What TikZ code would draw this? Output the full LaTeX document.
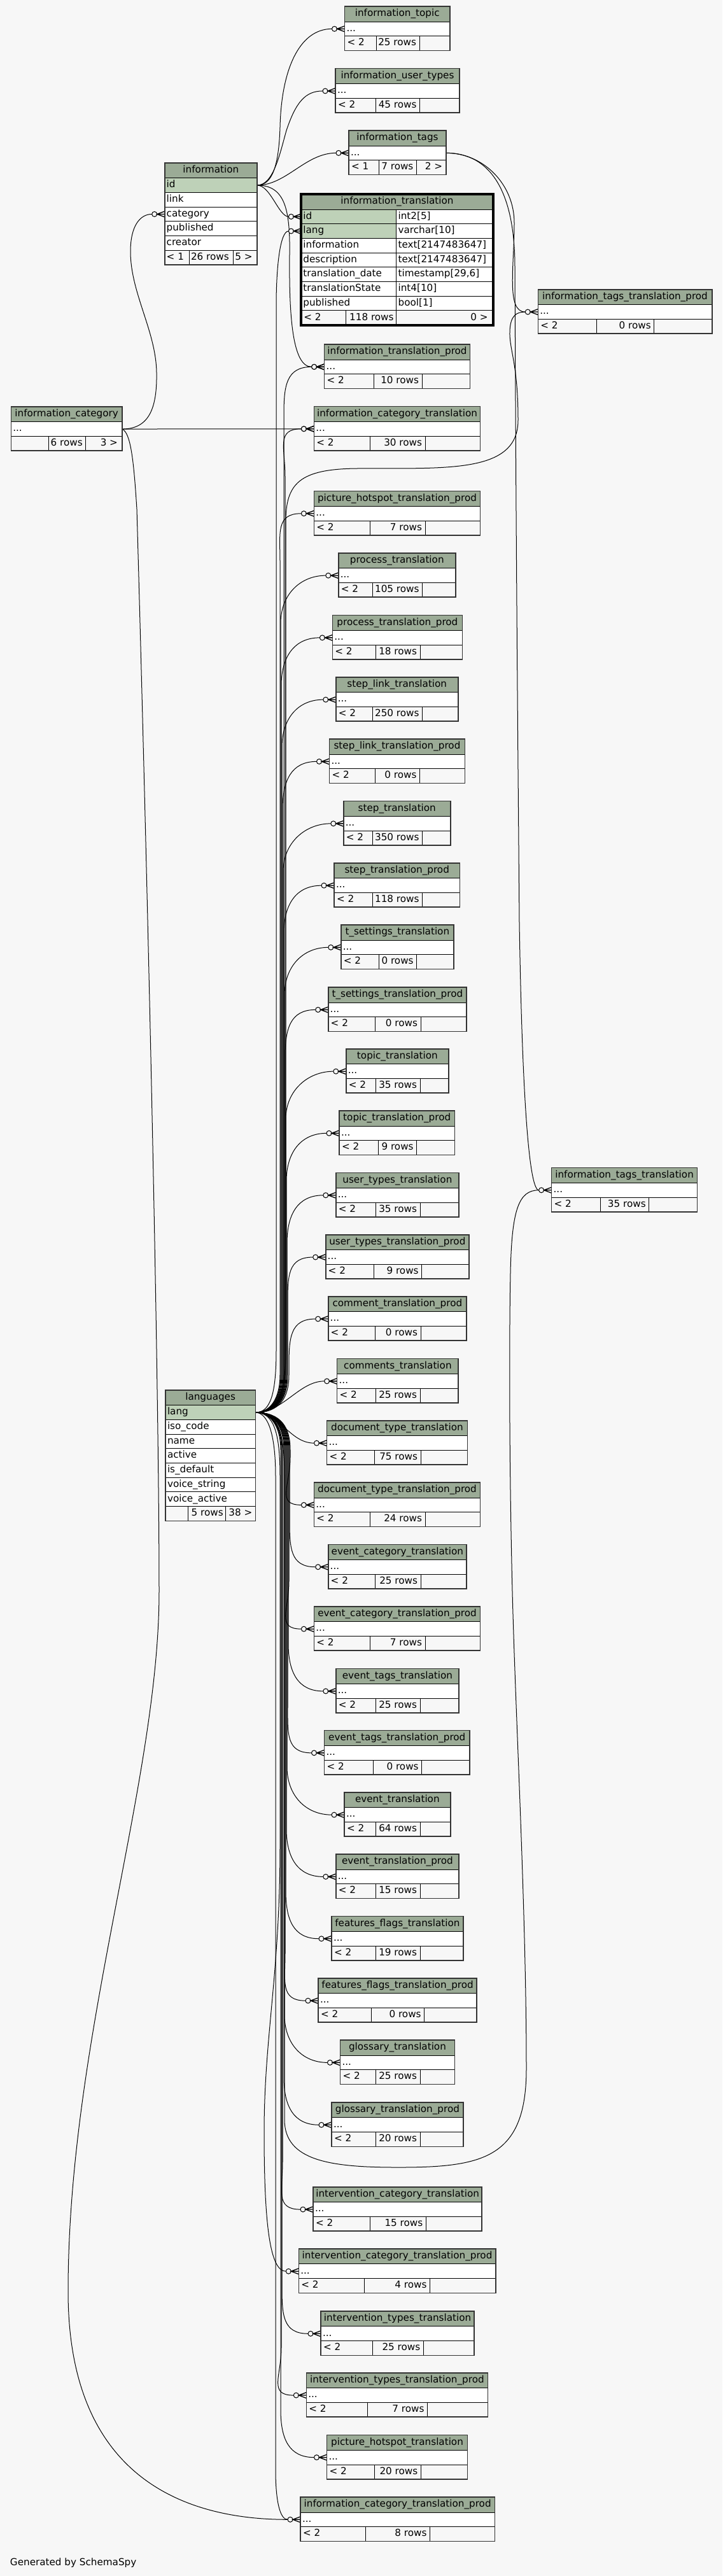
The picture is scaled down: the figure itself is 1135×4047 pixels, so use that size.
\documentclass[tikz,border=0pt]{standalone}
\usepackage{fontspec}
\setmainfont{DejaVu Sans}
\usetikzlibrary{calc}
\definecolor{bgc}{HTML}{F7F7F7}
\definecolor{hdrc}{HTML}{9BAB96}
\definecolor{pkc}{HTML}{BED1B8}
\definecolor{bordc}{HTML}{333333}
\pgfdeclarelayer{bgl}
\pgfdeclarelayer{lines}
\pgfsetlayers{bgl,lines,main}
\tikzset{
 txt/.style={font=\fontsize{15.2pt}{18pt}\selectfont, inner sep=0pt, outer sep=0pt, text height=11pt, text depth=3.5pt},
 cell/.style={draw=black, line width=0.9pt, inner sep=0pt, outer sep=0pt, anchor=north west},
 outerb/.style={draw=bordc, line width=1.6pt},
 conn/.style={draw=black, line width=1pt},
 crow/.pic={\path[fill=bgc, draw=black, line width=1pt] (-16,0) circle[radius=4];
   \draw[line width=1.3pt] (-12,0) -- (0,0) (0,-4.5) -- (-12,0) -- (0,4.5);}
}
% table: name, xL, xR, top, title, split1, split2, left footer, rows text
\newcommand\tbl[9]{%
 \pgfmathsetmacro\tW{#3-#2}\pgfmathsetmacro\tA{#6-#2}\pgfmathsetmacro\tB{#7-#6}\pgfmathsetmacro\tC{#3-#7}%
 \node[cell, fill=hdrc, minimum width=\tW, minimum height=24] (#1-h) at (#2,#4) {};
 \node[txt] at (#1-h.center) {#5};
 \node[cell, fill=white, minimum width=\tW, minimum height=22.7] (#1-r) at (#2,#4+24) {};
 \node[txt, anchor=west] at ([xshift=3pt]#1-r.west) {...};
 \node[cell, fill=bgc, minimum width=\tA, minimum height=22.7] (#1-f1) at (#2,#4+46.7) {};
 \node[cell, fill=bgc, minimum width=\tB, minimum height=22.7] (#1-f2) at (#6,#4+46.7) {};
 \node[cell, fill=bgc, minimum width=\tC, minimum height=22.7] (#1-f3) at (#7,#4+46.7) {};
 \node[txt, anchor=west] at ([xshift=4pt]#1-f1.west) {#8};
 \node[txt, anchor=east] at ([xshift=-5pt]#1-f2.east) {#9};
 \draw[outerb] (#1-h.north west) rectangle (#1-f3.south east);
}
% single column row: name, xL, width, y, fill, text
\newcommand\frow[6]{%
 \node[cell, fill=#5, minimum width=#3, minimum height=22.7] (#1) at (#2,#4) {};
 \node[txt, anchor=west] at ([xshift=3pt]#1.west) {#6};}
% two column row of information_translation: name, y, fill, left, right
\newcommand\trow[5]{%
 \node[cell, fill=#3, minimum width=149.2, minimum height=22.7] (#1) at (473.4,#2) {};
 \node[cell, fill=white, minimum width=151.9, minimum height=22.7] (#1-t) at (622.6,#2) {};
 \node[txt, anchor=west] at ([xshift=3pt]#1.west) {#4};
 \node[txt, anchor=west] at ([xshift=3pt]#1-t.west) {#5};}
% languages links
\newcommand\langup[3]{%
 \draw[conn] (lg-lang.east) .. controls (#2-14,2219) and (#2,2195) .. (#2,2160) -- (#2,#3+75) .. controls (#2,#3+30) and ($(#1-r.west)+(-60,0)$) .. ([xshift=-20pt]#1-r.west);
 \pic at (#1-r.west) {crow};}
\newcommand\langdn[3]{%
 \draw[conn] (lg-lang.east) .. controls (#2-14,2219) and (#2,2243) .. (#2,2278) -- (#2,#3-75) .. controls (#2,#3-30) and ($(#1-r.west)+(-60,0)$) .. ([xshift=-20pt]#1-r.west);
 \pic at (#1-r.west) {crow};}
\begin{document}
\begin{tikzpicture}[x=1pt,y=-1pt]
\useasboundingbox (0,0) rectangle (1135,4047);
\begin{pgfonlayer}{bgl}
\fill[bgc] (0,0) rectangle (1135,4047);
\end{pgfonlayer}

% ---------- tables ----------
\tbl{itop}{541.5}{707}{10}{information\_topic}{591}{659}{< 2}{25 rows}
\tbl{iut}{527}{722}{107.6}{information\_user\_types}{590.7}{659.5}{< 2}{45 rows}
\tbl{itag}{548}{701}{205}{information\_tags}{595.8}{654.4}{< 1}{7 rows}
\node[txt, anchor=east] at ([xshift=-6pt]itag-f3.east) {2 >};

% information
\node[cell, fill=hdrc, minimum width=145.3, minimum height=24] (info-h) at (258.7,255.7) {};
\node[txt] at (info-h.center) {information};
\frow{info-id}{258.7}{145.3}{279.7}{pkc}{id}
\frow{info-link}{258.7}{145.3}{302.4}{white}{link}
\frow{info-cat}{258.7}{145.3}{325.1}{white}{category}
\frow{info-pub}{258.7}{145.3}{347.8}{white}{published}
\frow{info-cre}{258.7}{145.3}{370.5}{white}{creator}
\frow{info-f1}{258.7}{38.3}{393.2}{bgc}{< 1}
\frow{info-f2}{297}{69.3}{393.2}{bgc}{26 rows}
\frow{info-f3}{366.3}{37.7}{393.2}{bgc}{5 >}
\draw[outerb] (info-h.north west) rectangle (info-f3.south east);

% information_translation
\node[cell, fill=hdrc, minimum width=301.1, minimum height=24] (itr-h) at (473.4,305) {};
\node[txt] at (itr-h.center) {information\_translation};
\trow{itr-id}{329}{pkc}{id}{int2[5]}
\trow{itr-lang}{351.7}{pkc}{lang}{varchar[10]}
\trow{itr-inf}{374.4}{white}{information}{text[2147483647]}
\trow{itr-des}{397.1}{white}{description}{text[2147483647]}
\trow{itr-td}{419.8}{white}{translation\_date}{timestamp[29,6]}
\trow{itr-ts}{442.5}{white}{translationState}{int4[10]}
\trow{itr-pub}{465.2}{white}{published}{bool[1]}
\node[cell, fill=bgc, minimum width=70.2, minimum height=22.7] (itr-f1) at (473.4,487.9) {};
\node[cell, fill=bgc, minimum width=79, minimum height=22.7] (itr-f2) at (543.6,487.9) {};
\node[cell, fill=bgc, minimum width=151.9, minimum height=22.7] (itr-f3) at (622.6,487.9) {};
\node[txt, anchor=west] at ([xshift=4pt]itr-f1.west) {< 2};
\node[txt, anchor=east] at ([xshift=-4pt]itr-f2.east) {118 rows};
\node[txt, anchor=east] at ([xshift=-8pt]itr-f3.east) {0 >};
\draw[line width=4pt] (itr-h.north west) rectangle (itr-f3.south east);

\tbl{ittp}{845.3}{1118.7}{454.7}{information\_tags\_translation\_prod}{937}{1027.7}{< 2}{0 rows}
\tbl{itrp}{509.6}{738.4}{541}{information\_translation\_prod}{587}{663}{< 2}{10 rows}
\tbl{ictr}{493.4}{754.6}{638.4}{information\_category\_translation}{581}{668}{< 2}{30 rows}
\tbl{icat}{17.3}{192}{638.7}{information\_category}{76}{134.7}{}{6 rows}
\node[txt, anchor=east] at ([xshift=-7pt]icat-f3.east) {3 >};
\tbl{phtp}{493.4}{754.6}{771.4}{picture\_hotspot\_translation\_prod}{581}{668}{< 2}{7 rows}
\tbl{prt}{531.8}{715.7}{868.8}{process\_translation}{585}{663.5}{< 2}{105 rows}
\tbl{prtp}{522.4}{726.4}{966.5}{process\_translation\_prod}{590.3}{660}{< 2}{18 rows}
\tbl{sltr}{527.8}{719.7}{1063.8}{step\_link\_translation}{585}{663.5}{< 2}{250 rows}
\tbl{sltp}{517.5}{730.4}{1161}{step\_link\_translation\_prod}{589}{659.5}{< 2}{0 rows}
\tbl{str}{539.8}{707.7}{1258.5}{step\_translation}{585}{663.5}{< 2}{350 rows}
\tbl{stp}{525}{722.4}{1355.8}{step\_translation\_prod}{585}{663.5}{< 2}{118 rows}
\tbl{tstr}{535.8}{713}{1453}{t\_settings\_translation}{595.6}{654.6}{< 2}{0 rows}
\tbl{tstp}{515.7}{733}{1551}{t\_settings\_translation\_prod}{589}{661}{< 2}{0 rows}
\tbl{totr}{543.8}{705}{1647.8}{topic\_translation}{590}{660}{< 2}{35 rows}
\tbl{totp}{533}{714.4}{1745}{topic\_translation\_prod}{594.3}{654.6}{< 2}{9 rows}
\tbl{uttr}{527.8}{721}{1842.4}{user\_types\_translation}{590}{660}{< 2}{35 rows}
\tbl{utp}{511.7}{737}{1939.7}{user\_types\_translation\_prod}{587.6}{662.6}{< 2}{9 rows}
\tbl{ctp}{515.7}{733}{2036.7}{comment\_translation\_prod}{589}{661}{< 2}{0 rows}
\tbl{cotr}{529.6}{720.2}{2134.5}{comments\_translation}{590.3}{660}{< 2}{25 rows}
\tbl{dttr}{513.5}{734.5}{2231.8}{document\_type\_translation}{588}{661}{< 2}{75 rows}
\tbl{dttp}{493.4}{754.6}{2329}{document\_type\_translation\_prod}{581}{668}{< 2}{24 rows}
\tbl{ectr}{515.7}{733}{2426.4}{event\_category\_translation}{589}{661}{< 2}{25 rows}
\tbl{ectp}{493.4}{754.6}{2523.8}{event\_category\_translation\_prod}{581}{668}{< 2}{7 rows}
\tbl{etgr}{527.8}{721}{2621.5}{event\_tags\_translation}{590.3}{660}{< 2}{25 rows}
\tbl{etgp}{509.5}{738}{2718.5}{event\_tags\_translation\_prod}{586.3}{662.6}{< 2}{0 rows}
\tbl{evtr}{541}{707.7}{2815.8}{event\_translation}{590.3}{660}{< 2}{64 rows}
\tbl{evtp}{527.8}{721}{2913}{event\_translation\_prod}{590.3}{660}{< 2}{15 rows}
\tbl{fftr}{521}{727.8}{3010.4}{features\_flags\_translation}{590.3}{660}{< 2}{19 rows}
\tbl{fftp}{500}{749.2}{3107.8}{features\_flags\_translation\_prod}{583.6}{666.6}{< 2}{0 rows}
\tbl{gltr}{534.5}{714.4}{3205}{glossary\_translation}{590.3}{660}{< 2}{25 rows}
\tbl{gltp}{521}{727.8}{3302.9}{glossary\_translation\_prod}{590.3}{660}{< 2}{20 rows}
\tbl{ivct}{492}{757.2}{3435.7}{intervention\_category\_translation}{581}{669.3}{< 2}{15 rows}
\tbl{ivcp}{469.3}{778.7}{3532.9}{intervention\_category\_translation\_prod}{572.9}{675.5}{< 2}{4 rows}
\tbl{ivtt}{504}{745.2}{3630.9}{intervention\_types\_translation}{585}{665.3}{< 2}{25 rows}
\tbl{ivtp}{481.3}{766.6}{3727.7}{intervention\_types\_translation\_prod}{577.3}{671.5}{< 2}{7 rows}
\tbl{phtr}{513.5}{734.5}{3825.3}{picture\_hotspot\_translation}{588}{661.3}{< 2}{20 rows}
\tbl{ictp}{472}{777.3}{3922.9}{information\_category\_translation\_prod}{574.6}{675.5}{< 2}{8 rows}
\tbl{ittr}{866.6}{1095.6}{1834.4}{information\_tags\_translation}{943.8}{1019.7}{< 2}{35 rows}

% languages
\node[cell, fill=hdrc, minimum width=141.3, minimum height=24] (lg-h) at (260,2183.7) {};
\node[txt] at (lg-h.center) {languages};
\frow{lg-lang}{260}{141.3}{2207.7}{pkc}{lang}
\frow{lg-iso}{260}{141.3}{2230.4}{white}{iso\_code}
\frow{lg-name}{260}{141.3}{2253.1}{white}{name}
\frow{lg-act}{260}{141.3}{2275.8}{white}{active}
\frow{lg-def}{260}{141.3}{2298.5}{white}{is\_default}
\frow{lg-vs}{260}{141.3}{2321.2}{white}{voice\_string}
\frow{lg-va}{260}{141.3}{2343.9}{white}{voice\_active}
\node[cell, fill=bgc, minimum width=35.7, minimum height=22.7] (lg-f1) at (260,2366.6) {};
\node[cell, fill=bgc, minimum width=59, minimum height=22.7] (lg-f2) at (295.7,2366.6) {};
\node[cell, fill=bgc, minimum width=46.6, minimum height=22.7] (lg-f3) at (354.7,2366.6) {};
\node[txt, anchor=east] at ([xshift=-4pt]lg-f2.east) {5 rows};
\node[txt, anchor=east] at ([xshift=-5pt]lg-f3.east) {38 >};
\draw[outerb] (lg-h.north west) rectangle (lg-f3.south east);

\node[txt, anchor=west] (gen) at (16,4027) {Generated by SchemaSpy};

% ---------- connectors ----------
\begin{pgfonlayer}{lines}
% information.id
\draw[conn] (info-id.east) .. controls (428,291) and (438,260) .. (440,200) .. controls (442,110) and (470,45.35) .. ([xshift=-20pt]itop-r.west);
\pic at (itop-r.west) {crow};
\draw[conn] (info-id.east) .. controls (430,291) and (440,240) .. (450,205) .. controls (465,160) and (480,143) .. ([xshift=-20pt]iut-r.west);
\pic at (iut-r.west) {crow};
\draw[conn] (info-id.east) .. controls (450,291) and (480,240.35) .. ([xshift=-20pt]itag-r.west);
\pic at (itag-r.west) {crow};
\draw[conn] (info-id.east) .. controls (425,291) and (438,340.35) .. ([xshift=-20pt]itr-id.west);
\pic at (itr-id.west) {crow};
\draw[conn] (info-id.east) .. controls (448,291) and (456,330) .. (455,400) .. controls (454,500) and (460,576.35) .. ([xshift=-20pt]itrp-r.west);
\pic at (itrp-r.west) {crow};
% information_category
\draw[conn] (icat-r.east) .. controls (235,674) and (247,640) .. (246,585) .. controls (245,520) and (205,460) .. (205,395) .. controls (205,355) and (220,336.45) .. ([xshift=-20pt]info-cat.west);
\pic at (info-cat.west) {crow};
\draw[conn] (icat-r.east) -- ([xshift=-20pt]ictr-r.west);
\pic at (ictr-r.west) {crow};
\draw[conn] (icat-r.east) .. controls (205,680) and (210,720) .. (215,800) .. controls (235,1500) and (250,2200) .. (250,2500) .. controls (250,2800) and (107,3200) .. (107,3600) .. controls (107,3900) and (300,3958.25) .. ([xshift=-20pt]ictp-r.west);
\pic at (ictp-r.west) {crow};
% information_tags
\draw[conn] (itag-r.east) .. controls (760,240.35) and (808,290) .. (808,350) .. controls (808,420) and (795,490.05) .. ([xshift=-20pt]ittp-r.west);
\pic at (ittp-r.west) {crow};
\draw[conn] (itag-r.east) .. controls (770,240.35) and (809,300) .. (809,420) .. controls (811,900) and (814,1200) .. (816,1450) .. controls (820,1700) and (830,1869.75) .. ([xshift=-20pt]ittr-r.west);
\pic at (ittr-r.west) {crow};
% languages.lang
\draw[conn] (lg-lang.east) .. controls (425,2219) and (434,2190) .. (434,2120) -- (434,480) .. controls (434,420) and (440,363.05) .. ([xshift=-20pt]itr-lang.west);
\pic at (itr-lang.west) {crow};
\draw[conn] (lg-lang.east) .. controls (437,2219) and (449,2190) .. (449,2120) -- (449,820) .. controls (449,760) and (470,737) .. (560,736) .. controls (700,735) and (814,745) .. (814,660) .. controls (814,570) and (800,550) .. (801,520) .. controls (802,495) and (812,490.05) .. ([xshift=-20pt]ittp-r.west);
\draw[conn] (lg-lang.east) .. controls (437,2219) and (447,2250) .. (447,2320) -- (447,3330) .. controls (447,3395) and (520,3405) .. (626,3405) .. controls (760,3405) and (827,3390) .. (827,3250) .. controls (827,3000) and (810,2700) .. (805,2500) .. controls (800,2300) and (800,2100) .. (802,2000) .. controls (804,1900) and (815,1869.75) .. ([xshift=-20pt]ittr-r.west);
\draw[conn] (lg-lang.east) .. controls (420,2219) and (433,2250) .. (433,2320) -- (433,3880) .. controls (433,3930) and (440,3958.25) .. ([xshift=-20pt]ictp-r.west);
\draw[conn] (lg-lang.east) .. controls (430,2219) and (440,2250) .. (440,2320) -- (440,2900) .. controls (440,3100) and (415,3200) .. (415,3350) .. controls (415,3500) and (425,3568.25) .. ([xshift=-20pt]ivcp-r.west);
\pic at (ivcp-r.west) {crow};
\draw[conn] (lg-lang.east) .. controls (445,2219) and (470,2169.85) .. ([xshift=-20pt]cotr-r.west);
\pic at (cotr-r.west) {crow};
\draw[conn] (lg-lang.east) .. controls (440,2219) and (455,2267.15) .. ([xshift=-20pt]dttr-r.west);
\pic at (dttr-r.west) {crow};
\langup{itrp}{446}{576.35}
\langup{ictr}{448}{673.75}
\langup{phtp}{440}{806.75}
\langup{prt}{441}{904.15}
\langup{prtp}{442}{1001.85}
\langup{sltr}{443}{1099.15}
\langup{sltp}{444}{1196.35}
\langup{str}{445}{1293.85}
\langup{stp}{446}{1391.15}
\langup{tstr}{447}{1488.35}
\langup{tstp}{448}{1586.35}
\langup{totr}{449}{1683.15}
\langup{totp}{450}{1780.35}
\langup{uttr}{451}{1877.75}
\langup{utp}{452}{1975.05}
\langup{ctp}{454}{2072.05}
\langdn{dttp}{456}{2364.35}
\langdn{ectr}{455}{2461.75}
\langdn{ectp}{454}{2559.15}
\langdn{etgr}{453}{2656.85}
\langdn{etgp}{452}{2753.85}
\langdn{evtr}{451}{2851.15}
\langdn{evtp}{450}{2948.35}
\langdn{fftr}{449}{3045.75}
\langdn{fftp}{448}{3143.15}
\langdn{gltr}{447}{3240.35}
\langdn{gltp}{446}{3338.25}
\langdn{ivct}{444}{3471.05}
\langdn{ivtt}{443}{3666.25}
\langdn{ivtp}{442}{3763.05}
\langdn{phtr}{441}{3860.65}
\end{pgfonlayer}
\end{tikzpicture}
\end{document}
